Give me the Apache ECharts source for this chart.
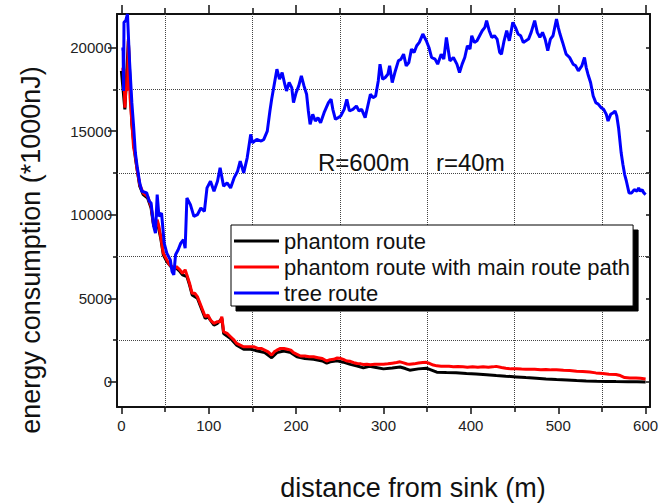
<!DOCTYPE html>
<html>
<head>
<meta charset="utf-8">
<script src="https://cdn.jsdelivr.net/npm/echarts@6/dist/echarts.min.js"></script>
<style>
html,body{margin:0;padding:0;background:#fff;}
#chart{width:670px;height:504px;}
</style>
</head>
<body>
<div id="chart"></div>
<script>
// ---- data ----
const seriesNames = ['phantom route', 'phantom route with main route path', 'tree route'];
const xMajorTicks = [0, 100, 200, 300, 400, 500, 600];
const xMinorTicks = [50, 150, 250, 350, 450, 550];
const yMajorTicks = [0, 5000, 10000, 15000, 20000];
const yMinorTicks = [2500, 7500, 12500, 17500];

const blackX = [0,4,8,12,16,21,25,30,34,37,41,45,48,52,58,63,67,70,75,78,81,87,90,96,99,106,110,115,117,125,132,140,148,156,164,172,178,186,194,201,210,220,230,235,239,247,254,262,270,277,284,290,300,310,319,325,330,340,349,355,361,372,383,395,406,418,429,440,452,463,475,486,498,510,521,532,544,555,566,580,590,600];
const blackY = [18600,16300,20400,15400,13400,11700,11200,11000,10400,9300,9600,8600,7600,7200,6800,6800,6600,6400,6300,5800,5200,5000,4600,3800,3900,3400,3500,3800,2900,2600,2200,1950,1950,1850,1750,1450,1750,1850,1750,1500,1400,1350,1250,1120,1200,1260,1180,1050,950,840,930,880,780,830,890,800,700,780,820,700,580,560,550,510,480,430,380,340,300,260,220,180,140,110,80,60,40,30,20,10,5,0];

const redX = [0,3,4,5,7,8,10,12,14,16,18,21,25,30,34,37,39,41,43,45,48,52,55,58,60,63,67,70,73,75,78,81,84,87,90,93,96,99,102,106,110,113,115,117,121,125,129,132,136,140,144,148,152,156,160,164,168,172,175,178,182,186,190,194,197,201,205,210,215,220,225,230,235,239,243,247,250,254,258,262,266,270,274,277,281,285,290,295,300,305,310,315,319,323,327,330,335,340,345,349,353,357,361,366,370,375,380,385,391,396,402,408,414,420,425,429,435,440,446,452,458,463,467,473,480,486,492,498,506,513,521,528,536,543,551,558,566,571,576,582,589,594,600];
const redY = [18700,18700,16400,17400,17500,20500,17000,15500,14000,13500,12700,11800,11300,11100,10500,9400,9200,9700,9300,8700,7700,7300,7000,6900,6700,6900,6700,6500,6700,6400,5900,5300,5300,5100,4700,4300,3900,4000,3700,3500,3600,3600,3900,3000,2900,2700,2500,2300,2200,2100,2100,2100,2100,2000,2000,1900,1800,1600,1800,1900,2000,2000,1950,1900,1750,1650,1550,1550,1500,1500,1450,1400,1250,1330,1350,1430,1420,1350,1250,1230,1150,1100,1080,1040,1060,1030,1060,1050,1050,1080,1120,1160,1200,1140,1070,1050,1080,1130,1160,1170,1100,1010,960,940,930,930,910,920,900,880,900,880,900,880,900,930,860,820,780,790,770,760,750,760,730,740,720,730,700,680,640,620,590,540,500,460,440,380,260,240,240,220,180];

const blueX = [0,2,2.5,3,5,7,9,12,14,16,18,21,23.5,29,32,34,37,39,41,43,46,49,52,56,58,60,62,65,68,71,73,75,79,83,87,91,95,98,102,106,110,113,117,121,125,129,133,136,140,144,148,150,155,160,163,167,170,172,175,178,181,184,187,189,192,195,197,200,203,206,209,212,214,216,219,222,225,228,232,237,240,242,245,248,251,255,258,261,265,269,272,275,279,282,285,288,291,294,296,299,302,305,307,310,313,317,320,323,326,329,332,335,338,341,345,349,352,355,359,362,366,369,372,376,380,384,387,390,393,396,399,401,404,407,410,413,416,418,421,424,427,430,433,435,438,441,444,448,451,454,457,460,463,466,469,473,476,479,482,485,488,491,494,498,500,502,505,509,513,517,520,523,527,530,532,534,537,540,543,546,549,552,555,557,560,563,565,567,569,572,574,576,578,581,584,587,590,592,594,596,598,600];
const blueY = [19900,19900,17400,21500,21600,22000,19500,16700,15300,13700,12900,11900,11400,11300,10800,10700,9300,8900,11200,9900,10100,8300,7700,7300,6600,6400,7600,7900,8300,8500,8000,11000,10600,9900,10000,10400,10200,11600,12000,11400,12000,12800,11700,11900,11600,12200,12600,13200,12500,13400,14800,14300,14500,14400,14500,15000,16200,16900,17800,18700,18100,18500,17800,17400,17900,17600,16700,17300,17700,18300,17700,17200,16200,15400,16000,15600,15800,15500,16100,16700,16900,16300,15700,15800,15900,16300,16900,16200,16300,16500,16200,16300,15800,16500,17200,17000,17100,18000,19000,18100,18200,18400,18900,17900,18500,19200,19300,19600,18900,19100,19900,19700,20100,20300,20800,20400,20000,19400,19300,19000,19600,19300,20600,19200,19400,19000,18500,19000,19400,20100,19900,20700,20300,20400,20700,21000,21200,21600,21000,20600,20700,20500,19700,19600,20400,21000,20400,21500,21200,20800,20700,20300,20400,20500,20900,21600,20900,20600,20900,20500,19800,20500,20700,21700,21200,20800,20300,19600,19400,19000,18900,18600,18900,19400,18800,18400,17900,17100,16700,16600,16400,16300,16000,15600,16000,16100,16200,15900,15200,13700,13000,12400,12000,11300,11300,11500,11400,11600,11400,11500,11300,11200];

const annotations = ['R=600m', 'r=40m'];
const xTitle = 'distance from sink (m)';
const yTitle = 'energy consumption (*1000nJ)';

// ---- build ----
const zip = (xs, ys) => xs.map((x, i) => [x, ys[i]]);
const FONT = '"Liberation Sans", Arial, sans-serif';
const X_MIN = -5, X_MAX = 605, Y_MIN = -1500, Y_MAX = 22000;
const lineCol = '#111';
const plain = v => String(v);

function xAx(pos, ticks, len, showLine, labels) {
  return {
    type: 'value', position: pos, min: X_MIN, max: X_MAX,
    axisLine: {show: showLine, onZero: false, lineStyle: {color: lineCol, width: 2}},
    axisTick: {show: true, customValues: ticks, length: len, lineStyle: {color: lineCol, width: 1.5}},
    axisLabel: labels ? {show: true, customValues: labels, formatter: plain, fontFamily: FONT, fontSize: 15, color: '#222', margin: 11} : {show: false},
    splitLine: {show: false}
  };
}
function yAx(pos, ticks, len, showLine, labels, inside) {
  return {
    type: 'value', position: pos, min: Y_MIN, max: Y_MAX,
    axisLine: {show: showLine, onZero: false, lineStyle: {color: lineCol, width: 2}},
    axisTick: {show: true, inside: !!inside, customValues: ticks, length: len, lineStyle: {color: lineCol, width: 1.5}},
    axisLabel: labels ? {show: true, customValues: labels, formatter: plain, fontFamily: FONT, fontSize: 15, color: '#222', margin: 5} : {show: false},
    splitLine: {show: false}
  };
}

const gridLines = xMinorTicks.map(v => ({xAxis: v})).concat(yMinorTicks.map(v => ({yAxis: v})));

const option = {
  animation: false,
  backgroundColor: '#fff',
  grid: {left: 117, right: 20, top: 14, bottom: 97, containLabel: false},
  xAxis: [
    xAx('bottom', xMajorTicks, 7, true, xMajorTicks),
    xAx('bottom', xMinorTicks, 5, false, null),
    xAx('top', xMajorTicks, 9, true, null),
    xAx('top', xMinorTicks, 6, false, null)
  ],
  yAxis: [
    yAx('left', yMajorTicks, 9, true, yMajorTicks, false),
    yAx('left', yMinorTicks, 4, false, null, false),
    yAx('right', yMajorTicks.concat(yMinorTicks), 4, true, null, true)
  ],
  legend: {
    orient: 'vertical', left: 231, top: 225,
    data: seriesNames,
    icon: 'rect', itemWidth: 45, itemHeight: 3, itemGap: 4,
    padding: [5, 3, 2, 3],
    backgroundColor: '#fff', borderColor: '#000', borderWidth: 1, borderRadius: 0,
    shadowColor: '#000', shadowBlur: 0, shadowOffsetX: 5, shadowOffsetY: 5,
    textStyle: {fontFamily: FONT, fontSize: 22, color: '#111', lineHeight: 22},
    selectedMode: false
  },
  series: [
    {
      name: seriesNames[0], type: 'line', xAxisIndex: 0, yAxisIndex: 0,
      data: zip(blackX, blackY), symbol: 'none', color: '#000',
      lineStyle: {color: '#000', width: 3}, z: 2,
      markLine: {
        silent: true, symbol: 'none', label: {show: false},
        lineStyle: {type: [1, 1], color: '#444', width: 1},
        data: gridLines, z: 1
      }
    },
    {
      name: seriesNames[1], type: 'line', xAxisIndex: 0, yAxisIndex: 0,
      data: zip(redX, redY), symbol: 'none', color: '#ff0000',
      lineStyle: {color: '#ff0000', width: 3}, z: 3
    },
    {
      name: seriesNames[2], type: 'line', xAxisIndex: 0, yAxisIndex: 0,
      data: zip(blueX, blueY), symbol: 'none', color: '#0000ff',
      lineStyle: {color: '#0000ff', width: 3}, z: 4
    }
  ],
  graphic: [
    {type: 'text', x: 318, y: 162, style: {text: annotations[0], font: '24px ' + FONT, fill: '#111', textAlign: 'left', textVerticalAlign: 'middle'}},
    {type: 'text', x: 436, y: 162, style: {text: annotations[1], font: '24px ' + FONT, fill: '#111', textAlign: 'left', textVerticalAlign: 'middle'}},
    {type: 'text', x: 413, y: 488, style: {text: xTitle, font: '27px ' + FONT, fill: '#111', textAlign: 'center', textVerticalAlign: 'middle'}},
    {type: 'text', x: 31, y: 250, rotation: Math.PI / 2, style: {text: yTitle, font: '27px ' + FONT, fill: '#111', textAlign: 'center', textVerticalAlign: 'middle'}}
  ]
};

const chart = echarts.init(document.getElementById('chart'), null, {renderer: 'svg'});
chart.setOption(option);
</script>
</body>
</html>
